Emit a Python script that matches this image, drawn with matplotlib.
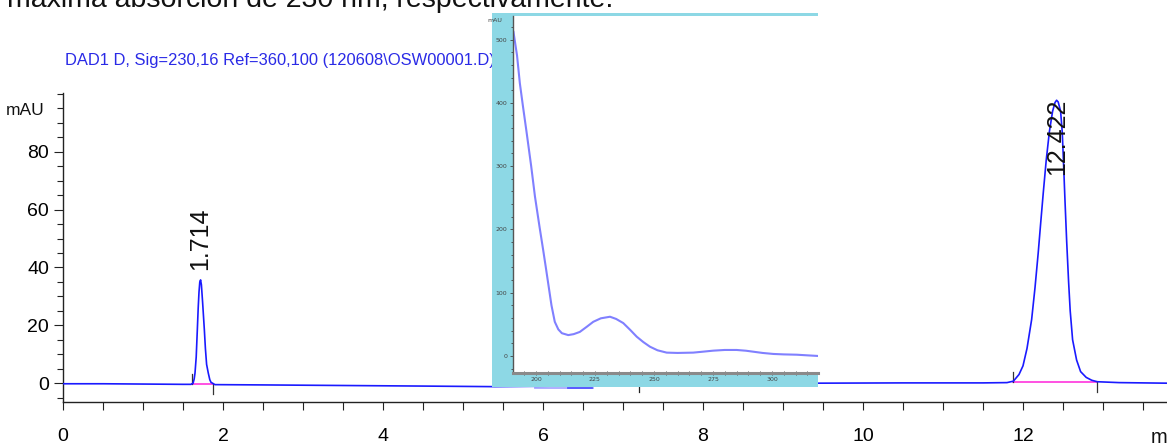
import matplotlib
matplotlib.use("Agg")
import matplotlib.pyplot as plt
from matplotlib.ticker import FixedLocator, MultipleLocator

# chromatogram trace (min, mAU)
time_min = [0.0, 0.5, 1.0, 1.5, 1.60, 1.626, 1.64, 1.65, 1.665, 1.679, 1.69, 1.70,
            1.71, 1.72, 1.73, 1.745, 1.767, 1.78, 1.795, 1.816, 1.835, 1.85, 1.9,
            2.5, 3.5, 4.5, 5.4, 7.0, 9.4, 10.5, 11.5, 11.80, 11.88, 11.95, 12.0,
            12.05, 12.108, 12.15, 12.19, 12.22, 12.254, 12.29, 12.33, 12.37, 12.40,
            12.42, 12.44, 12.47, 12.49, 12.504, 12.525, 12.546, 12.57, 12.59, 12.62,
            12.67, 12.72, 12.79, 12.86, 12.93, 13.2, 13.8]
signal_mau = [-0.2, -0.2, -0.3, -0.4, -0.4, 0.0, 1.5, 3.5, 9.0, 18.4, 26.0, 31.5,
              35.0, 35.7, 34.0, 28.0, 18.4, 12.0, 6.5, 3.5, 1.2, 0.3, -0.5,
              -0.6, -0.8, -1.0, -1.2, -0.8, 0.0, 0.1, 0.1, 0.2, 0.7, 3.0, 6.0,
              12.0, 22.0, 33.0, 45.0, 55.0, 66.0, 77.0, 87.0, 94.0, 97.0,
              97.8, 97.2, 94.0, 87.0, 78.0, 63.0, 49.0, 35.0, 25.0, 15.0,
              8.0, 4.0, 2.0, 1.0, 0.5, 0.2, 0.0]

peak_rt = [1.714, 12.422]
peak_label_y = [39, 72]
peak_start = [1.617, 11.87]
peak_end = [1.875, 12.93]
peak_base = [-0.3, 0.3]

# UV spectrum in the inset (nm, mAU)
wl_nm = [190.5, 192.0, 193.2, 194.5, 196.0, 198.0, 199.6, 201.5, 203.1, 204.2, 205.2,
         206.0, 206.6, 208.0, 209.5, 211.0, 213.7, 216.0, 218.6, 221.5, 224.3, 227.5,
         231.4, 234.0, 237.0, 240.0, 242.7, 245.5, 248.3, 251.5, 255.4, 260.0, 266.6,
         270.0, 275.1, 280.0, 285.0, 289.0, 292.0, 296.0, 300.6, 305.0, 310.5, 315.0,
         319.6]
absorb_mau = [512, 475, 431, 395, 355, 300, 252, 205, 167, 140, 115,
              95, 80, 54, 42, 36, 33, 34.5, 38, 46, 54, 59.5,
              62, 58.5, 52, 41, 30.5, 22, 14.7, 9, 5.3, 4.8, 5.3,
              6.5, 8.4, 9.5, 9.5, 8.3, 6.8, 4.8, 3.2, 2.5, 2.0, 1.0,
              0.0]

title = "DAD1 D, Sig=230,16 Ref=360,100 (120608\\OSW00001.D)"
top_line = "máxima absorción de 230 nm, respectivamente."

sans = ["Liberation Sans", "DejaVu Sans"]
W, H = 1167, 447
cyan = "#8dd8e5"

fig = plt.figure(figsize=(W / 100, H / 100), dpi=100)

ax = fig.add_axes([63 / W, (H - 401.7) / H, (W - 63) / W, (401.7 - 93.3) / H])
ax.plot(time_min, signal_mau, color="#1a1aff", lw=1.2, zorder=3)
for s, e, b in zip(peak_start, peak_end, peak_base):
    ax.plot([s, e], [b, b], color="#ff33dd", lw=1.2, zorder=2)
    ax.plot([s, s], [b, b + 3.5], color="#333333", lw=0.9)
    ax.plot([e, e], [b, b - 3.5], color="#333333", lw=0.9)
for rt, ly in zip(peak_rt, peak_label_y):
    ax.text(rt, ly, f"{rt:.3f}", rotation=90, ha="center", va="bottom",
            fontsize=18, family=sans, color="#111111", zorder=4)

# small marks left under the spectrum window
ax.plot([5.9, 6.625], [-1.7, -1.7], color="#a8a8ff", lw=1.3, clip_on=False)
ax.plot([6.31, 6.61], [-1.7, -1.7], color="#5555ff", lw=1.3, clip_on=False)
ax.plot([7.2, 7.2], [-1.3, -3.0], color="#222222", lw=0.9)

ax.set_xlim(0, 13.8)
ax.set_ylim(-6.4, 100.2)
ax.spines["top"].set_visible(False)
ax.spines["right"].set_visible(False)
for sp in ("left", "bottom"):
    ax.spines[sp].set_linewidth(1.0)
    ax.spines[sp].set_color("#222222")
ax.xaxis.set_major_locator(MultipleLocator(2))
ax.xaxis.set_minor_locator(MultipleLocator(0.5))
ax.yaxis.set_major_locator(FixedLocator([0, 20, 40, 60, 80]))
ax.yaxis.set_minor_locator(MultipleLocator(5))
ax.tick_params(axis="x", which="both", length=6, width=0.8, pad=13, labelsize=14,
               color="#222222")
ax.tick_params(axis="y", which="major", length=6.5, width=0.8, pad=3.6, labelsize=14,
               color="#222222")
ax.tick_params(axis="y", which="minor", length=4.5, width=0.8, color="#222222")
for lab in ax.get_xticklabels() + ax.get_yticklabels():
    lab.set_family(sans)

fig.text(1151 / W, 1 - 443 / H, "min", ha="left", va="baseline", fontsize=14.5,
         family=sans, color="#111111")
fig.text(45 / W, 1 - 115 / H, "mAU", ha="right", va="baseline", fontsize=12.5,
         family=sans, color="#111111")
fig.text(65 / W, 1 - 65 / H, title, ha="left", va="baseline", fontsize=11.9,
         family=sans, color="#2a2ae6")
fig.text(7 / W, 1 - 7 / H, top_line, ha="left", va="baseline", fontsize=20.5,
         family=sans, color="#111111")

# spectrum window
bg = fig.add_axes([492 / W, (H - 387) / H, 326 / W, 374 / H], zorder=5)
bg.set_facecolor(cyan)
bg.set_xticks([])
bg.set_yticks([])
for sp in bg.spines.values():
    sp.set_visible(False)

ins = fig.add_axes([513 / W, (H - 373) / H, 305 / W, 357.5 / H], zorder=6)
ins.plot(wl_nm, absorb_mau, color="#8080ff", lw=1.5)
ins.set_xlim(190.3, 319.5)
ins.set_ylim(-26.9, 538)
ins.spines["top"].set_visible(False)
ins.spines["right"].set_visible(False)
ins.spines["left"].set_color("#555555")
ins.spines["left"].set_linewidth(1.0)
ins.spines["bottom"].set_color("#8a8a8a")
ins.spines["bottom"].set_linewidth(2.2)
ins.xaxis.set_major_locator(MultipleLocator(25))
ins.xaxis.set_minor_locator(MultipleLocator(5))
ins.yaxis.set_major_locator(MultipleLocator(100))
ins.yaxis.set_minor_locator(MultipleLocator(20))
ins.tick_params(which="both", labelsize=4.5, labelcolor="#444444", color="#444444",
                width=0.6, pad=1.5)
ins.tick_params(axis="x", which="both", direction="inout", length=2.5)
ins.tick_params(axis="y", which="major", length=2.5)
ins.tick_params(axis="y", which="minor", length=1.5)
ins.text(-0.035, 0.985, "mAU", transform=ins.transAxes, ha="right", va="center",
         fontsize=4.5, color="#444444")

fig.savefig("out.png", dpi=100)
